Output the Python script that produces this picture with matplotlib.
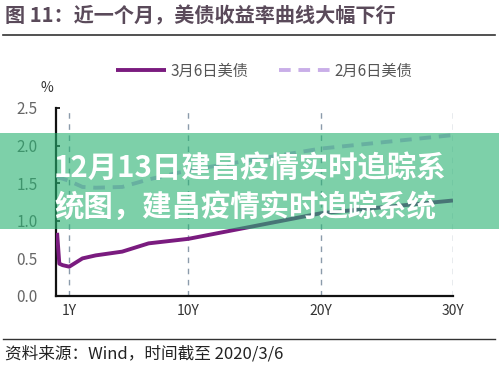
import matplotlib
matplotlib.use("Agg")
import matplotlib.pyplot as plt
from matplotlib.patches import Rectangle
from matplotlib.lines import Line2D

plt.rcParams['font.family'] = ['Noto Sans CJK SC', 'DejaVu Sans']

# maturities in years: 1M 3M 6M 1Y 2Y 3Y 5Y 7Y 10Y 20Y 30Y
maturity = [1/12, 0.25, 0.5, 1, 2, 3, 5, 7, 10, 20, 30]
mar6 = [0.84, 0.43, 0.41, 0.39, 0.50, 0.54, 0.59, 0.70, 0.76, 1.10, 1.27]
feb6 = [1.60, 1.57, 1.56, 1.53, 1.45, 1.44, 1.45, 1.55, 1.67, 1.96, 2.14]

x_ticks = [1, 10, 20, 30]
x_labels = ["1Y", "10Y", "20Y", "30Y"]
y_ticks = [0.0, 0.5, 1.0, 1.5, 2.0, 2.5]

title = "图 11：近一个月，美债收益率曲线大幅下行"
source = "资料来源：Wind，时间截至 2020/3/6"
banner = ["12月13日建昌疫情实时追踪系", "统图，建昌疫情实时追踪系统"]

W, H = 499, 365
fig = plt.figure(figsize=(W / 100, H / 100), dpi=100)
ax = fig.add_axes([56 / W, 1 - 296 / H, (453 - 56) / W, (296 - 108) / H])

for xv in x_ticks:
    ax.axvline(xv, color="#8b9bab", lw=1.0, ls=(0, (4, 4)), zorder=1)

ax.plot(maturity, mar6, color="#7a1b7f", lw=2.8, solid_capstyle="butt",
        label="3月6日美债", zorder=3)
ax.plot(maturity, feb6, color="#c9aee8", lw=2.8, ls=(0, (3, 2)),
        label="2月6日美债", zorder=3)

ax.set_xlim(0, 30)
ax.set_ylim(0, 2.5)
ax.set_xticks(x_ticks)
ax.set_xticklabels(x_labels)
ax.set_yticks(y_ticks)
ax.set_yticklabels([f"{v:.1f}" for v in y_ticks])
ax.tick_params(axis="y", direction="in", length=3, width=1.2, pad=13,
               labelsize=11, labelcolor="#666666")
ax.tick_params(axis="x", length=0, pad=6, labelsize=10, labelcolor="#333333")
for s in ["top", "right"]:
    ax.spines[s].set_visible(False)
for s in ["left", "bottom"]:
    ax.spines[s].set_linewidth(1.6)
    ax.spines[s].set_color("#111111")

leg = fig.legend(loc="center", bbox_to_anchor=(264 / W, 1 - 71 / H), ncol=2,
                 frameon=False, handlelength=3.3, handletextpad=0.3,
                 columnspacing=2.0, fontsize=11)
for t in leg.get_texts():
    t.set_color("#555555")

fig.text(47 / W, 1 - 88 / H, "%", fontsize=10, color="#333333",
         ha="center", va="center")

fig.text(5 / W, 1 - 16 / H, title, fontsize=14.5, fontweight="bold",
         color="#5a4a5a", ha="left", va="center")
fig.add_artist(Line2D([3 / W, 495 / W], [1 - 35 / H, 1 - 35 / H],
                      color="#333333", lw=1.2))
fig.add_artist(Line2D([3 / W, 495 / W], [1 - 339 / H, 1 - 339 / H],
                      color="#333333", lw=1.0))
fig.text(5 / W, 1 - 354 / H, source, fontsize=12, color="#222222",
         ha="left", va="center")

# translucent green banner over the chart
fig.add_artist(Rectangle((0, 1 - 229 / H), 1, 96 / H, transform=fig.transFigure,
                         facecolor="#26b271", alpha=0.6, edgecolor="none",
                         zorder=10))
fig.text(54 / W, 1 - 168 / H, banner[0], fontsize=21.2, fontweight="bold",
         color="white", ha="left", va="center", zorder=11)
fig.text(54 / W, 1 - 207 / H, banner[1], fontsize=21.2, fontweight="bold",
         color="white", ha="left", va="center", zorder=11)

fig.savefig("out.png", dpi=100)
